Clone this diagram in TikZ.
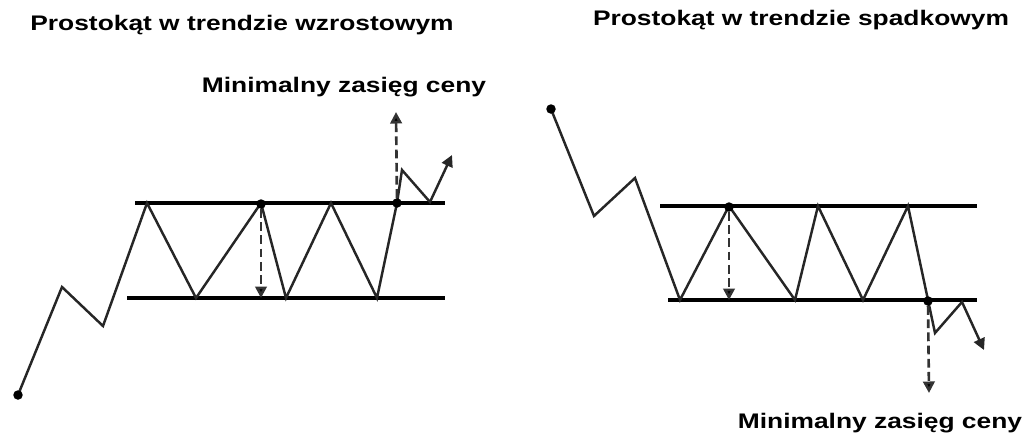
\documentclass[tikz,border=0pt]{standalone}
\usepackage{fontspec}
\setmainfont{Liberation Sans}[FakeStretch=1.25]
\usetikzlibrary{arrows.meta}

\begin{document}
\begin{tikzpicture}[x=0.02cm,y=-0.02cm,font=\fontsize{12}{14}\selectfont\bfseries,
  >={Triangle[length=2.3mm,width=2.3mm]},
  price/.style={line width=1.4pt,line join=miter,draw=black!85},
  band/.style={line width=2pt},
  target/.style={line width=1.5pt,draw=black!80,dash pattern=on 5pt off 2.5pt,-{Triangle[length=2.3mm,width=2.3mm,fill=black]}},
  pivot/.style={circle,fill,inner sep=0pt,minimum size=1.9mm}]
  \useasboundingbox (0,0) rectangle (1029,437);
  % rosnacy trend
  \node (tup) at (242,25) {Prostokąt w trendzie wzrostowym};
  \node (lup) at (344,87) {Minimalny zasięg ceny};
  \draw[band] (135,203) -- (445,203);
  \draw[band] (127,298) -- (445,298);
  \draw[price,->] (18,395) -- (62,287) -- (103,326) -- (147,203) -- (196,298) -- (261,203)
    -- (286,298) -- (331,203) -- (377,298) -- (397,203) -- (402,170) -- (430,202) -- (452,155);
  \node[pivot] (s1) at (18,395) {};
  \node[pivot] (h1) at (261,204) {};
  \node[pivot] (b1) at (397,203) {};
  \coordinate (h1e) at (261,298);
  \coordinate (b1e) at (396,112);
  \draw[target] (h1) -- (h1e);
  \draw[target] (b1) -- (b1e);
  % spadkowy trend
  \node (tdn) at (801,20) {Prostokąt w trendzie spadkowym};
  \node (ldn) at (880,423) {Minimalny zasięg ceny};
  \draw[band] (660,206) -- (977,206);
  \draw[band] (668,300) -- (977,300);
  \draw[price,->] (551,109) -- (594,216) -- (635,178) -- (680,300) -- (729,206) -- (795,300)
    -- (818,206) -- (863,300) -- (908,206) -- (928,300) -- (935,333) -- (962,302) -- (984,350);
  \node[pivot] (s2) at (551,109) {};
  \node[pivot] (h2) at (729,207) {};
  \node[pivot] (b2) at (928,301) {};
  \coordinate (h2e) at (729,300);
  \coordinate (b2e) at (929,393);
  \draw[target] (h2) -- (h2e);
  \draw[target] (b2) -- (b2e);
\end{tikzpicture}
\end{document}
